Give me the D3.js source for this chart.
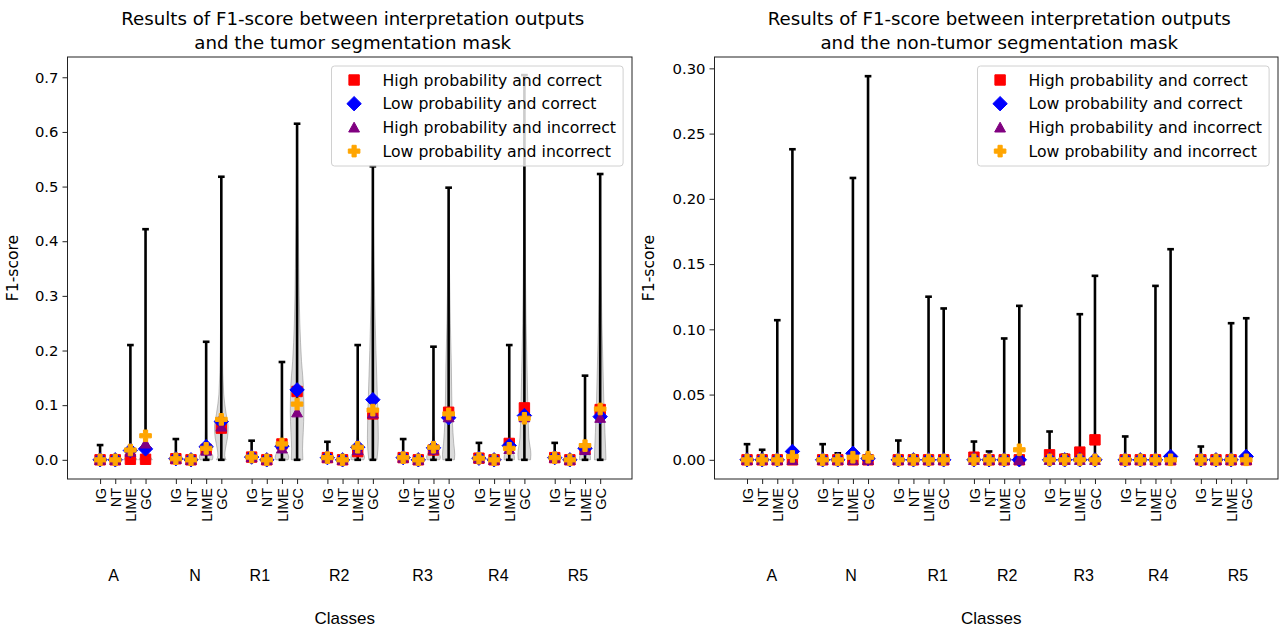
<!DOCTYPE html>
<html>
<head>
<meta charset="utf-8">
<title>F1-score comparison</title>
<script src="https://d3js.org/d3.v7.min.js"></script>
<style>
  body { margin: 0; background: #fff; }
  text { fill: #000; }
  .dv { font-family: "DejaVu Sans", sans-serif; }
  .lib { font-family: "Liberation Sans", Arial, sans-serif; }
</style>
</head>
<body>
<svg id="chart" width="1288" height="630"></svg>
<script>
// ---- data ----
var classes = ["A", "N", "R1", "R2", "R3", "R4", "R5"];
var methods = ["IG", "NT", "LIME", "GC"];
var seriesNames = ["High probability and correct", "Low probability and correct",
                   "High probability and incorrect", "Low probability and incorrect"];

// tumor mask panel: values listed class by class, IG / NT / LIME / GC
var tumorMax = [0.027, 0.004, 0.210, 0.422,  0.038, 0.003, 0.216, 0.518,
                0.035, 0.003, 0.179, 0.615,  0.033, 0.003, 0.210, 0.537,
                0.038, 0.004, 0.207, 0.498,  0.031, 0.003, 0.210, 0.704,
                0.031, 0.003, 0.154, 0.523];
var tumorHighCorrect = [0.000, 0.000, 0.001, 0.001,  0.002, 0.000, 0.019, 0.058,
                        0.005, 0.000, 0.029, 0.125,  0.004, 0.000, 0.015, 0.084,
                        0.004, 0.000, 0.018, 0.087,  0.003, 0.000, 0.030, 0.095,
                        0.004, 0.000, 0.020, 0.092];
var tumorLowCorrect = [0.000, 0.000, 0.017, 0.020,  0.002, 0.000, 0.024, 0.070,
                       0.005, 0.000, 0.025, 0.128,  0.004, 0.000, 0.023, 0.110,
                       0.004, 0.000, 0.022, 0.077,  0.003, 0.000, 0.026, 0.081,
                       0.004, 0.000, 0.021, 0.079];
var tumorHighIncorrect = [0.000, 0.000, 0.015, 0.030,  0.002, 0.000, 0.017, 0.061,
                          0.005, 0.000, 0.021, 0.087,  0.004, 0.000, 0.018, 0.085,
                          0.004, 0.000, 0.019, 0.078,  0.003, 0.000, 0.020, 0.078,
                          0.004, 0.000, 0.018, 0.077];
var tumorLowIncorrect = [0.000, 0.000, 0.018, 0.044,  0.002, 0.000, 0.021, 0.074,
                         0.005, 0.000, 0.029, 0.102,  0.004, 0.000, 0.023, 0.091,
                         0.004, 0.000, 0.023, 0.084,  0.003, 0.000, 0.021, 0.076,
                         0.004, 0.000, 0.026, 0.093];
// violin outlines [value, relative half width] for the ones that show
var tumorViolins = [
  null, null, [[0,1],[0.01,0.5],[0.03,0.12],[0.1,0.05],[0.21,0.02]],
              [[0,1],[0.01,0.5],[0.03,0.15],[0.08,0.08],[0.2,0.04],[0.422,0.02]],
  null, null, [[0,0.9],[0.006,1],[0.015,0.6],[0.03,0.15],[0.1,0.05],[0.216,0.02]],
              [[0,0.7],[0.008,0.5],[0.02,0.6],[0.04,0.9],[0.06,1],[0.085,0.7],[0.12,0.35],[0.2,0.15],[0.35,0.06],[0.518,0.02]],
  null, null, [[0,0.9],[0.005,1],[0.015,0.7],[0.03,0.25],[0.06,0.08],[0.179,0.02]],
              [[0,0.85],[0.02,0.8],[0.05,0.9],[0.09,1],[0.13,0.95],[0.18,0.65],[0.25,0.4],[0.35,0.25],[0.45,0.15],[0.615,0.03]],
  null, null, [[0,0.9],[0.005,1],[0.015,0.6],[0.03,0.2],[0.06,0.06],[0.21,0.02]],
              [[0,0.6],[0.02,0.75],[0.04,0.8],[0.08,0.75],[0.12,0.65],[0.2,0.45],[0.3,0.25],[0.4,0.12],[0.537,0.02]],
  null, null, [[0,0.9],[0.005,1],[0.015,0.6],[0.03,0.2],[0.06,0.05],[0.207,0.02]],
              [[0,0.85],[0.01,0.9],[0.03,0.75],[0.07,0.55],[0.1,0.48],[0.17,0.4],[0.25,0.25],[0.35,0.12],[0.498,0.02]],
  null, null, [[0,0.75],[0.005,0.75],[0.015,0.5],[0.03,0.15],[0.06,0.05],[0.21,0.02]],
              [[0,0.9],[0.01,0.95],[0.04,0.65],[0.1,0.5],[0.16,0.4],[0.25,0.25],[0.4,0.12],[0.55,0.05],[0.704,0.02]],
  null, null, [[0,0.8],[0.005,0.8],[0.015,0.5],[0.03,0.15],[0.06,0.05],[0.154,0.02]],
              [[0,0.85],[0.02,0.8],[0.05,0.7],[0.1,0.55],[0.15,0.45],[0.25,0.25],[0.35,0.12],[0.523,0.02]]
];

// non-tumor mask panel
var nonTumorMax = [0.012, 0.0077, 0.107, 0.238,  0.012, 0.005, 0.216, 0.294,
                   0.0148, 0.003, 0.125, 0.116,  0.014, 0.0064, 0.093, 0.118,
                   0.0217, 0.004, 0.1116, 0.141,  0.0179, 0.002, 0.1333, 0.1614,
                   0.0102, 0.002, 0.1047, 0.1085];
var nonTumorHighCorrect = [0, 0, 0, 0,  0, 0, 0, 0,  0, 0, 0, 0,  0.002, 0, 0, 0,
                           0.0038, 0.0005, 0.0059, 0.0153,  0, 0, 0, 0,  0, 0, 0, 0];
var nonTumorLowCorrect = [0, 0, 0, 0.0064,  0, 0, 0.005, 0.001,  0, 0, 0, 0,  0, 0, 0, 0,
                          0, 0, 0, 0,  0, 0, 0, 0.0026,  0, 0, 0, 0.0026];
var nonTumorHighIncorrect = [0, 0, 0, 0,  0, 0, 0, 0,  0, 0, 0, 0,  0, 0, 0, 0,
                             0, 0, 0, 0,  0, 0, 0, 0,  0, 0, 0, 0];
var nonTumorLowIncorrect = [0, 0, 0, 0.0026,  0, 0, 0.002, 0.002,  0, 0, 0, 0,  0, 0, 0, 0.0077,
                            0, 0, 0, 0,  0, 0, 0, 0,  0, 0, 0, 0];

var tumorTicks = [0, 0.1, 0.2, 0.3, 0.4, 0.5, 0.6, 0.7];
var nonTumorTicks = [0, 0.05, 0.1, 0.15, 0.2, 0.25, 0.3];

// ---- drawing ----
var svg = d3.select("#chart");
var colors = ["#ff0000", "#0000ff", "#800080", "#ffa500"];

function markerPath(k) {
  if (k == 0) return "M-5.2,-5.2L5.2,-5.2L5.2,5.2L-5.2,5.2Z";
  if (k == 1) return "M0,-7.2L7.2,0L0,7.2L-7.2,0Z";
  if (k == 2) return "M0,-5.2L5.4,4.6L-5.4,4.6Z";
  var a = 5.8, b = 2.1;
  return "M" + [[-b,-a],[b,-a],[b,-b],[a,-b],[a,b],[b,b],[b,a],[-b,a],[-b,b],[-a,b],[-a,-b],[-b,-b]].join("L") + "Z";
}

function panel(o) {
  var x = d3.scaleLinear().domain([-2.15, 35.1]).range([o.left, o.right]);
  var y = d3.scaleLinear().domain(o.yDomain).range([479, 57]);
  var unit = x(1) - x(0);
  var g = svg.append("g");
  var pos = [];
  classes.forEach(function(c, i) {
    methods.forEach(function(m, j) { pos.push(i * 5 + j); });
  });

  // violins
  var area = d3.area()
    .curve(d3.curveMonotoneY)
    .y(function(d) { return y(d[0]); });
  (o.violins || []).forEach(function(v, i) {
    if (!v) return;
    area.x0(function(d) { return x(pos[i]) - d[1] * 0.45 * unit; })
        .x1(function(d) { return x(pos[i]) + d[1] * 0.45 * unit; });
    g.append("path").attr("d", area(v))
      .attr("fill", "rgba(150,150,150,0.35)")
      .attr("stroke", "rgba(120,120,120,0.45)")
      .attr("stroke-width", 1);
  });

  // whiskers (min at 0 up to max, with caps)
  pos.forEach(function(p, i) {
    var cx = x(p), cw = 0.22 * unit;
    g.append("line").attr("x1", cx).attr("x2", cx).attr("y1", y(0)).attr("y2", y(o.max[i]))
      .attr("stroke", "#000").attr("stroke-width", 2.6);
    [0, o.max[i]].forEach(function(v) {
      g.append("line").attr("x1", cx - cw).attr("x2", cx + cw).attr("y1", y(v)).attr("y2", y(v))
        .attr("stroke", "#000").attr("stroke-width", 2.6);
    });
  });

  // markers
  o.series.forEach(function(s, k) {
    g.selectAll(null).data(s).enter().append("path")
      .attr("d", markerPath(k))
      .attr("transform", function(d, i) { return "translate(" + x(pos[i]) + "," + y(d) + ")"; })
      .attr("fill", colors[k]).attr("stroke", colors[k]).attr("stroke-width", 1);
  });

  // frame
  g.append("rect").attr("x", o.left).attr("y", 57).attr("width", o.right - o.left).attr("height", 422)
    .attr("fill", "none").attr("stroke", "#222").attr("stroke-width", 1);

  // y axis
  var ya = g.append("g").attr("transform", "translate(" + o.left + ",0)")
    .call(d3.axisLeft(y).tickValues(o.ticks).tickFormat(d3.format(o.fmt)).tickSize(5).tickPadding(4));
  ya.select(".domain").remove();
  ya.selectAll("text").attr("class", "dv").style("font-size", "14.8px").attr("fill", "#000");
  ya.selectAll("line").attr("stroke", "#222");

  // x axis, rotated method labels
  var xa = g.append("g").attr("transform", "translate(0,479)")
    .call(d3.axisBottom(x).tickValues(pos).tickSize(5).tickFormat(function(d, i) { return methods[i % 4]; }));
  xa.select(".domain").remove();
  xa.selectAll("line").attr("stroke", "#222");
  xa.selectAll("text").attr("class", "lib").style("font-size", "14.5px")
    .attr("transform", "rotate(-90)").attr("text-anchor", "end")
    .attr("x", -9).attr("y", 0).attr("dy", "0.35em");

  // class labels under the groups
  classes.forEach(function(c, i) {
    g.append("text").attr("class", "lib").attr("x", x(o.classX[i])).attr("y", 581)
      .attr("text-anchor", "middle").style("font-size", "16px").text(c);
  });
  g.append("text").attr("class", "lib").attr("x", (o.left + o.right) / 2 - 5).attr("y", 624)
    .attr("text-anchor", "middle").style("font-size", "17px").text("Classes");

  g.append("text").attr("class", "dv")
    .attr("transform", "translate(" + o.ylabX + ",268) rotate(-90)")
    .attr("text-anchor", "middle").style("font-size", "15.6px").text("F1-score");

  var cx = (o.left + o.right) / 2 + 3;
  o.title.forEach(function(t, i) {
    g.append("text").attr("class", "dv").attr("x", cx).attr("y", 25 + i * 23.5)
      .attr("text-anchor", "middle").style("font-size", "18.2px").text(t);
  });

  // legend
  var lx = o.right - 300.5, ly = 66;
  var lg = g.append("g");
  lg.append("rect").attr("x", lx).attr("y", ly).attr("width", 291.6).attr("height", 100).attr("rx", 3)
    .attr("fill", "rgba(255,255,255,0.8)").attr("stroke", "#d0d0d0");
  seriesNames.forEach(function(n, k) {
    var yy = ly + 14 + k * 23.7;
    lg.append("path").attr("d", markerPath(k)).attr("transform", "translate(" + (lx + 22.6) + "," + yy + ")")
      .attr("fill", colors[k]).attr("stroke", colors[k]);
    lg.append("text").attr("class", "dv").attr("x", lx + 51).attr("y", yy).attr("dy", "0.36em")
      .style("font-size", "15.7px").text(n);
  });
}

panel({
  left: 67.5, right: 632, yDomain: [-0.0351, 0.7371], ticks: tumorTicks, fmt: ".1f", ylabX: 18,
  max: tumorMax, violins: tumorViolins,
  series: [tumorHighCorrect, tumorLowCorrect, tumorHighIncorrect, tumorLowIncorrect],
  classX: [0.89, 6.26, 10.54, 15.78, 21.28, 26.28, 31.54],
  title: ["Results of F1-score between interpretation outputs", "and the tumor segmentation mask"]
});
panel({
  left: 714.5, right: 1278, yDomain: [-0.0147, 0.3087], ticks: nonTumorTicks, fmt: ".2f", ylabX: 654,
  max: nonTumorMax, violins: null,
  series: [nonTumorHighCorrect, nonTumorLowCorrect, nonTumorHighIncorrect, nonTumorLowIncorrect],
  classX: [1.64, 6.87, 12.6, 17.2, 22.25, 27.19, 32.45],
  title: ["Results of F1-score between interpretation outputs", "and the non-tumor segmentation mask"]
});
</script>
</body>
</html>
